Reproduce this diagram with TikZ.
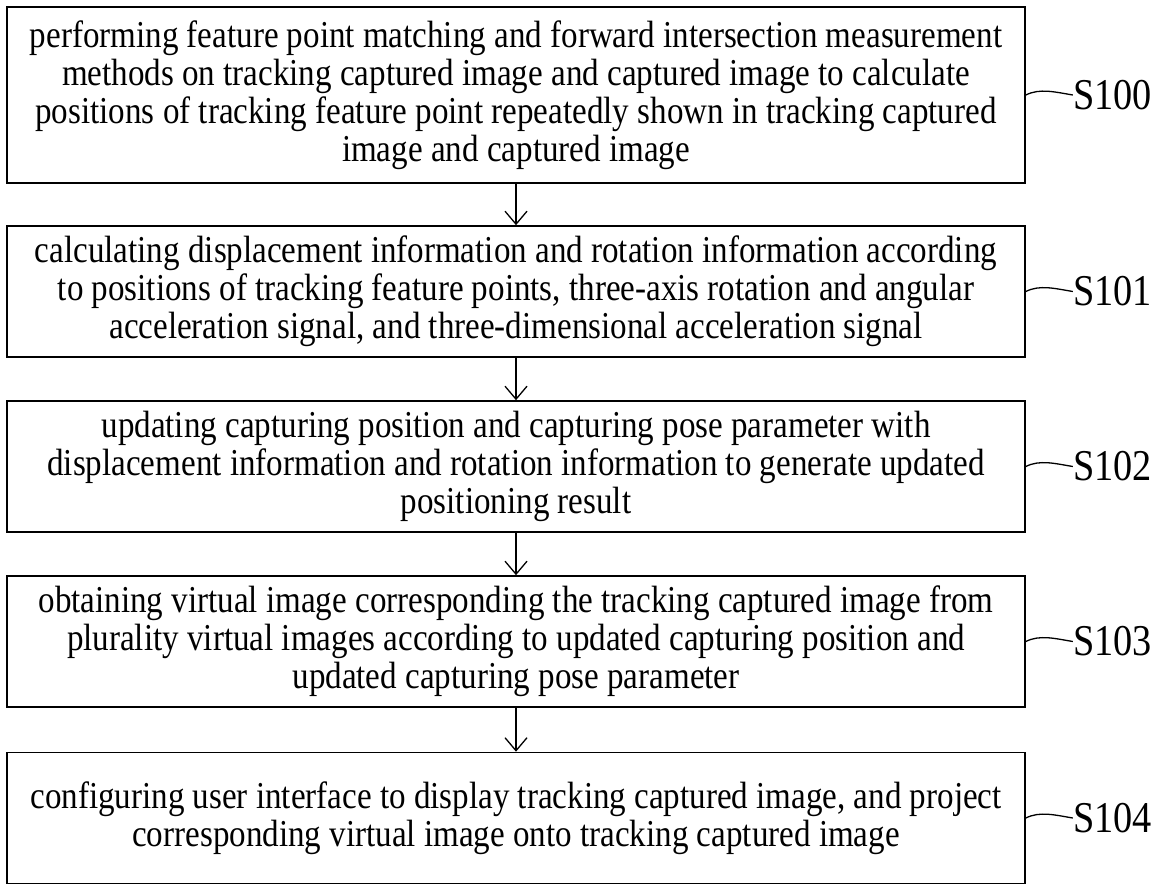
\documentclass[tikz,border=0pt]{standalone}
\usepackage{fontspec}
\setmainfont[FakeStretch=0.87]{Liberation Serif}
\usetikzlibrary{arrows.meta}
\begin{document}
\begin{tikzpicture}[x=1pt,y=-1pt,
  stepbox/.style={draw, line width=1.6pt, inner sep=0pt, align=center,
    font=\fontsize{38}{38}\selectfont},
  flow/.style={line width=1.3pt, -{Straight Barb[length=13pt,width=22pt,line width=1.3pt]}},
  lbl/.style={font=\fontsize{44}{44}\selectfont, anchor=west, inner sep=0pt},
  lead/.style={line width=1.3pt}]
\useasboundingbox (0,0) rectangle (1156,884);
\node[stepbox, minimum width=1018pt, minimum height=176pt] (b0) at (516,95)
 {performing feature point matching and forward intersection measurement\\
  methods on tracking captured image and captured image to calculate\\
  positions of tracking feature point repeatedly shown in tracking captured\\
  image and captured image};
\node[stepbox, minimum width=1018pt, minimum height=131pt] (b1) at (516,291.5)
 {calculating displacement information and rotation information according\\
  to positions of tracking feature points, three-axis rotation and angular\\
  acceleration signal, and three-dimensional acceleration signal};
\node[stepbox, minimum width=1018pt, minimum height=131pt] (b2) at (516,466.5)
 {updating capturing position and capturing pose parameter with\\
  displacement information and rotation information to generate updated\\
  positioning result};
\node[stepbox, minimum width=1018pt, minimum height=131pt] (b3) at (516,641.5)
 {obtaining virtual image corresponding the tracking captured image from\\
  plurality virtual images according to updated capturing position and\\
  updated capturing pose parameter};
\node[stepbox, minimum width=1018pt, minimum height=131pt] (b4) at (516,818)
 {configuring user interface to display tracking captured image, and project\\
  corresponding virtual image onto tracking captured image};
\draw[flow] (b0) -- (b1);
\draw[flow] (b1) -- (b2);
\draw[flow] (b2) -- (b3);
\draw[flow] (b3) -- (b4);
\foreach \i/\t in {0/S100,1/S101,2/S102,3/S103,4/S104}{
  \node[lbl] (l\i) at ([xshift=47pt]b\i.east) {\t};
  \draw[lead] (b\i.east) .. controls +(14,-7) and +(-18,-3) .. (l\i.west);
}
\end{tikzpicture}
\end{document}
